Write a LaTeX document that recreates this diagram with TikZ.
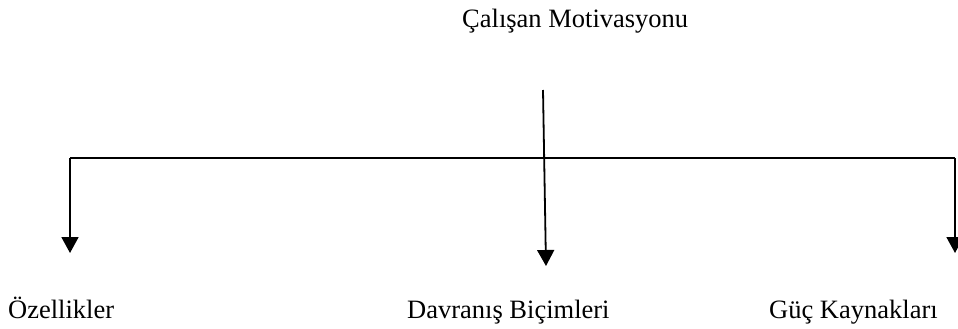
\documentclass[tikz,border=0pt]{standalone}
\usepackage{fontspec}
\setmainfont{Liberation Serif}
\usetikzlibrary{arrows.meta}
\begin{document}
\begin{tikzpicture}[x=1pt,y=-1pt,
  lbl/.style={anchor=base west,inner sep=0pt,font=\fontsize{26.5}{30}\selectfont},
  conn/.style={line width=1.8pt},
  arr/.style={conn,-{Triangle[width=17pt,length=16pt]}}]
\useasboundingbox (0,0) rectangle (958,329);
\node[lbl] (top) at (462,28) {Çalışan Motivasyonu};
\node[lbl] (oz) at (8,318) {Özellikler};
\node[lbl] (dav) at (407,318) {Davranış Biçimleri};
\node[lbl] (guc) at (769,318) {Güç Kaynakları};
\coordinate (s) at (543,90);
\coordinate (hl) at (70,158);
\coordinate (hr) at (955,158);
\coordinate (tl) at (70,253);
\coordinate (tm) at (546,266);
\coordinate (tr) at (955,253);
\draw[conn] (hl) -- (hr);
\draw[arr] (s) -- (tm);
\draw[arr] (hl) -- (tl);
\draw[arr] (hr) -- (tr);
\end{tikzpicture}
\end{document}
